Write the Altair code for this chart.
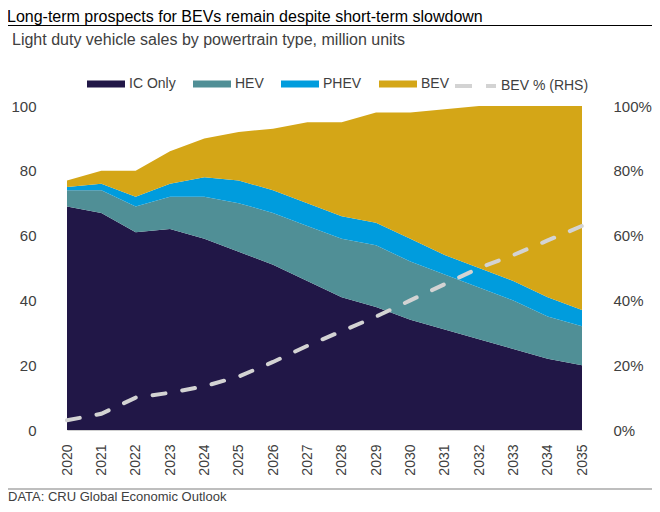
import altair as alt
import pandas as pd

years = list(range(2020, 2036))
ic_only = [69, 67, 61, 62, 59, 55, 51, 46, 41, 38, 34, 31, 28, 25, 22, 20]
hev = [5, 7, 8, 10, 13, 15, 16, 17, 18, 19, 18, 17, 16, 15, 13, 12]
phev = [1, 2, 3, 4, 6, 7, 7, 7, 7, 7, 7, 6, 6, 6, 6, 5]
bev = [2, 4, 8, 10, 12, 15, 19, 25, 29, 34, 39, 45, 50, 54, 59, 63]
bev_share = [3, 5, 10, 11.5, 13.5, 16.5, 21, 26, 30.5, 35, 40, 45, 50, 54, 58.5, 63]

series_names = ["IC Only", "HEV", "PHEV", "BEV"]
series_colors = ["#211747", "#508f96", "#009cdd", "#d4a617"]
line_name = "BEV % (RHS)"
line_color = "#d3d3d3"

title_text = "Long-term prospects for BEVs remain despite short-term slowdown"
subtitle_text = "Light duty vehicle sales by powertrain type, million units"
footer_text = "DATA: CRU Global Economic Outlook"

FONT = "Liberation Sans"
GRAY = "#404040"

rows = []
for name, order, vals in zip(series_names, range(4), [ic_only, hev, phev, bev]):
    for y, v in zip(years, vals):
        rows.append({"year": y, "series": name, "order": order, "value": v})
df = pd.DataFrame(rows)
share_df = pd.DataFrame({"year": years, "share": [s / 100 for s in bev_share], "name": line_name})

x_enc = alt.X(
    "year:Q",
    scale=alt.Scale(domain=[2020, 2035], nice=False, zero=False),
    axis=alt.Axis(
        values=years, format="d", labelAngle=270, labelFontSize=14, labelColor=GRAY,
        labelFont=FONT, ticks=False, grid=False, domain=True, domainColor="#cfcfcf",
        labelPadding=14, title=None, labelOverlap=False, labelFlush=False,
    ),
)

areas = alt.Chart(df).mark_area(opacity=1).encode(
    x=x_enc,
    y=alt.Y(
        "value:Q",
        stack="zero",
        scale=alt.Scale(domain=[0, 100], nice=False),
        axis=alt.Axis(
            values=[0, 20, 40, 60, 80, 100], labelFontSize=15, labelColor=GRAY, labelFont=FONT,
            ticks=False, grid=False, domain=False, labelPadding=31, title=None,
        ),
    ),
    fill=alt.Fill(
        "series:N",
        scale=alt.Scale(domain=series_names, range=series_colors),
        legend=alt.Legend(
            orient="none", legendX=20, legendY=-41, direction="horizontal", title=None,
            symbolType="M-1,-0.184H1V0.184H-1Z", symbolSize=1444, symbolStrokeWidth=0,
            symbolOpacity=1, labelFontSize=14, labelColor=GRAY, labelFont=FONT,
            columnPadding=17, labelOffset=4,
        ),
    ),
    order=alt.Order("order:Q"),
)

line = alt.Chart(share_df).mark_line(
    strokeWidth=4, strokeDash=[13, 17], strokeCap="round"
).encode(
    x=x_enc,
    y=alt.Y(
        "share:Q",
        scale=alt.Scale(domain=[0, 1], nice=False),
        axis=alt.Axis(
            orient="right", values=[0, 0.2, 0.4, 0.6, 0.8, 1.0], format=".0%",
            labelFontSize=15, labelColor=GRAY, labelFont=FONT, ticks=False, grid=False,
            domain=False, labelPadding=31, title=None,
        ),
    ),
    stroke=alt.Stroke(
        "name:N",
        scale=alt.Scale(domain=[line_name], range=[line_color]),
        legend=alt.Legend(
            orient="none", legendX=386, legendY=-42.5, title=None,
            symbolType="stroke", symbolSize=1681, symbolStrokeWidth=4,
            symbolDash=[17, 14], labelFontSize=14, labelColor=GRAY, labelFont=FONT,
            labelOffset=3,
        ),
    ),
)

title = alt.Chart(pd.DataFrame({"t": [title_text]})).mark_text(
    align="left", baseline="middle", fontSize=16, font=FONT, color="#000000"
).encode(x=alt.value(-60), y=alt.value(-89.5), text="t:N")

subtitle = alt.Chart(pd.DataFrame({"t": [subtitle_text]})).mark_text(
    align="left", baseline="middle", fontSize=16, font=FONT, color=GRAY
).encode(x=alt.value(-55), y=alt.value(-66.5), text="t:N")

footer = alt.Chart(pd.DataFrame({"t": [footer_text]})).mark_text(
    align="left", baseline="alphabetic", fontSize=13, font=FONT, color=GRAY
).encode(x=alt.value(-59), y=alt.value(394.5), text="t:N")

title_rule = alt.Chart(pd.DataFrame({"k": [0]})).mark_rule(color="#000000", strokeWidth=1.2).encode(
    x=alt.value(-60), x2=alt.value(586), y=alt.value(-80.5)
)
footer_rule = alt.Chart(pd.DataFrame({"k": [0]})).mark_rule(color="#7f7f7f", strokeWidth=1.2).encode(
    x=alt.value(-60), x2=alt.value(586), y=alt.value(383)
)

chart = alt.layer(areas, line, title, subtitle, footer, title_rule, footer_rule).resolve_scale(
    y="independent"
).properties(
    width=515, height=324,
    autosize=alt.AutoSizeParams(type="none"),
    padding={"left": 59, "top": 98, "right": 70, "bottom": 74},
).configure_view(stroke=None)

chart.save("out.html", embed_options={"renderer": "svg", "actions": False})
